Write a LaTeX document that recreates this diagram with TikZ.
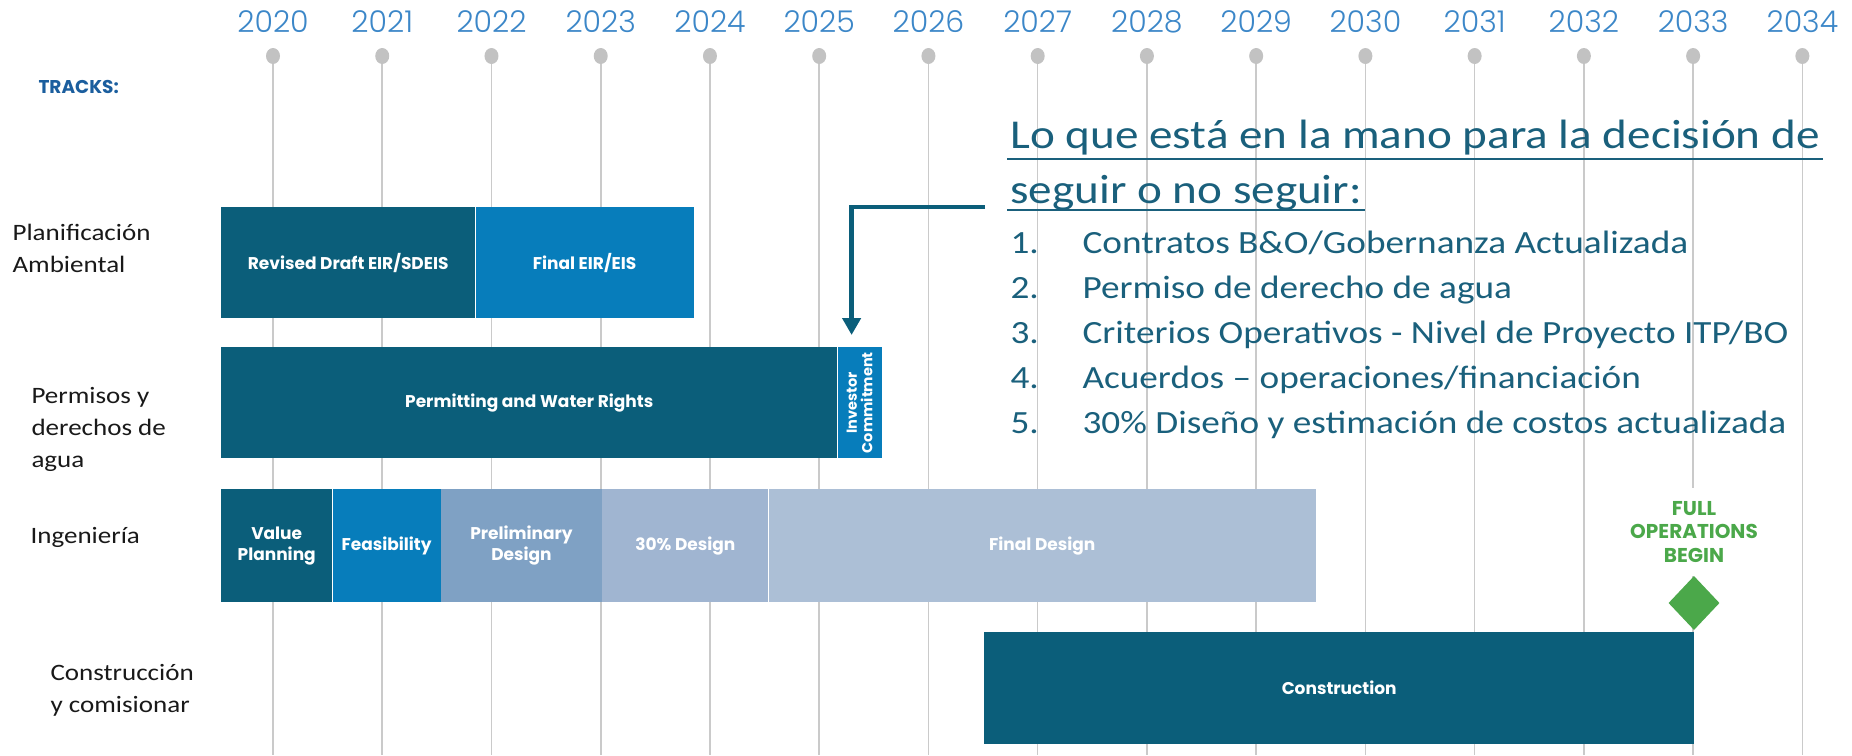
\documentclass[tikz,border=0pt]{standalone}
\usepackage{fontspec}
\setmainfont{Carlito}[FakeStretch=1.15]
\newfontfamily\geofont{Poppins}
\newfontfamily\thinfont{Poppins Light}
\usetikzlibrary{arrows.meta,positioning,shapes.geometric}
\definecolor{tealc}{HTML}{0B5E7A}
\definecolor{bluec}{HTML}{077DBB}
\definecolor{prelc}{HTML}{7FA1C4}
\definecolor{d30c}{HTML}{A0B5D1}
\definecolor{finc}{HTML}{ACBFD6}
\definecolor{greenc}{HTML}{4BA84A}
\definecolor{yearc}{HTML}{3C87C8}
\definecolor{trackc}{HTML}{1B5E9E}
\definecolor{gridc}{HTML}{CACACA}
\definecolor{pinc}{HTML}{C2C2C2}
\definecolor{headc}{HTML}{1A607C}
\tikzset{
  seg/.style={fill=#1,inner sep=0pt,anchor=north west,text=white,align=center,font=\geofont\bfseries\fontsize{17}{21}\selectfont},
  seg/.default={tealc},
  trk/.style={anchor=base west,align=left,text=black!90,font=\fontsize{23.5}{32}\selectfont},
  itm/.style={anchor=base west,text=headc,font=\fontsize{32.4}{36}\selectfont},
}

\begin{document}
\begin{tikzpicture}[x=1pt,y=-1pt,
  yr/.style={text=yearc,font=\thinfont\fontsize{30}{32}\selectfont},
  pin/.style={ellipse,fill=pinc,minimum width=14pt,minimum height=16pt,inner sep=0pt},
  grid/.style={gridc,line width=1.6pt},
  head/.style={anchor=base west,text=headc,font=\fontsize{41}{48}\selectfont},
  conn/.style={tealc,line width=4.5pt,-{Triangle[length=17pt,width=18pt]}}]
 \useasboundingbox (0,0) rectangle (1852,755);
 % ---- year axis
 \foreach \i in {0,...,14}{
   \pgfmathtruncatemacro{\yy}{2020+\i}
   \draw[grid] (273+109.24*\i,56) -- (273+109.24*\i,755);
   \node[pin] (pin\yy) at (273+109.24*\i,56) {};
   \node[yr] (yr\yy) at (273+109.24*\i,22) {\yy};
 }
 \node[anchor=west,text=trackc,font=\geofont\bfseries\fontsize{18.5}{20}\selectfont] (tracks) at (35,87) {TRACKS:};
 % ---- track labels (base = last line)
 \node[trk] (lplan) at (9,272) {Planificación\\Ambiental};
 \node[trk] (lperm) at (28,467) {Permisos y\\derechos de\\agua};
 \node[trk] (leng) at (27,543) {Ingeniería};
 \node[trk] (lcons) at (47,712) {Construcción\\y comisionar};
 % ---- environmental planning
 \node[seg=tealc,minimum width=254,minimum height=111] (rdeir) at (221,207) {Revised Draft EIR/SDEIS};
 \node[seg=bluec,minimum width=218,minimum height=111] (feir) at (rdeir.north east) {Final EIR/EIS};
 % ---- permits and water rights
 \node[seg=tealc,minimum width=616,minimum height=111] (permit) at (221,347) {Permitting and Water Rights};
 \node[seg=bluec,minimum width=44,minimum height=111] (invest) at (permit.north east) {};
 \node[rotate=90,text=white,align=center,font=\geofont\bfseries\fontsize{14.5}{15.5}\selectfont] (investlbl) at (invest.center) {Investor\\Commitment};
 % ---- engineering
 \node[seg=tealc,minimum width=111,minimum height=113] (vplan) at (221,489) {Value\\Planning};
 \node[seg=bluec,minimum width=108,minimum height=113] (feas) at (vplan.north east) {Feasibility};
 \node[seg=prelc,minimum width=161,minimum height=113] (prel) at (feas.north east) {Preliminary\\Design};
 \node[seg=d30c,minimum width=166,minimum height=113] (d30) at (prel.north east) {30\% Design};
 \node[seg=finc,minimum width=547,minimum height=113] (fdes) at (d30.north east) {Final Design};
 % ---- construction
 \node[seg=tealc,minimum width=710,minimum height=112] (cons) at (984,632) {Construction};
 \node[fill=white,minimum width=150,minimum height=88,inner sep=0pt,align=center,text=greenc,font=\geofont\bfseries\fontsize{20}{23.5}\selectfont] (fullops) at (1694,532) {FULL\\OPERATIONS\\BEGIN};
 \node[diamond,fill=greenc,minimum width=51,minimum height=54,inner sep=0pt] (golive) at (1694,603) {};
 % ---- go / no-go note
 \node[head] (q1) at (1007,148) {Lo que está en la mano para la decisión de};
 \node[head] (q2) at (1007,203) {seguir o no seguir:};
 \draw[headc,line width=2pt] ([yshift=-11pt]q1.base west) -- ([yshift=-11pt]q1.base east);
 \draw[headc,line width=2pt] ([yshift=-7pt]q2.base west) -- ([yshift=-7pt]q2.base east);
 \foreach \n/\t [count=\k from 0] in {1/{Contratos B\&O/Gobernanza Actualizada},2/{Permiso de derecho de agua},3/{Criterios Operativos - Nivel de Proyecto ITP/BO},4/{Acuerdos – operaciones/financiación},5/{30\% Diseño y estimación de costos actualizada}}{
   \node[itm] (num\n) at (1007,253+45*\k) {\n.};
   \node[itm] (item\n) at (1079,253+45*\k) {\t};
 }
 \coordinate (hook) at (985,207);
 \draw[conn,shorten >=12pt] (hook) -| ([xshift=-8pt]invest.north);
\end{tikzpicture}
\end{document}
